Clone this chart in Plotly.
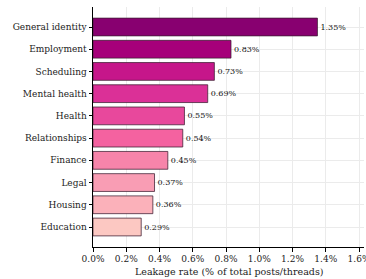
import plotly.graph_objects as go

categories = ["General identity", "Employment", "Scheduling", "Mental health", "Health",
              "Relationships", "Finance", "Legal", "Housing", "Education"]
values = [1.35, 0.83, 0.73, 0.69, 0.55, 0.54, 0.45, 0.37, 0.36, 0.29]
colors = ["#880070", "#a6007a", "#c6168a", "#db3097", "#e8489c", "#f462a0",
          "#f784aa", "#f99db4", "#fbb1ba", "#fcc8c2"]
tick_vals = [0, 0.2, 0.4, 0.6, 0.8, 1.0, 1.2, 1.4, 1.6]
tick_text = ["0.0%", "0.2%", "0.4%", "0.6%", "0.8%", "1.0%", "1.2%", "1.4%", "1.6%"]
x_title = "Leakage rate (% of total posts/threads)"

font = "DejaVu Serif"
fig = go.Figure()
fig.add_trace(go.Bar(
    x=values, y=categories, orientation="h",
    marker=dict(color=colors, line=dict(color="rgba(60,30,50,0.75)", width=1)),
    width=0.8,
    text=[f"{v:.2f}%" for v in values], textposition="outside",
    textfont=dict(family=font, size=8, color="#111"),
    cliponaxis=False,
))
fig.update_layout(
    width=366, height=279,
    margin=dict(l=93, r=2, t=7, b=32, autoexpand=False),
    plot_bgcolor="white", paper_bgcolor="white",
    font=dict(family=font, size=9, color="#222"),
    showlegend=False,
)
fig.add_annotation(
    text=x_title, xref="paper", yref="paper", x=0.5, y=-0.1,
    xanchor="center", yanchor="middle", showarrow=False,
    font=dict(family=font, size=9.5, color="#222"),
)
fig.update_xaxes(
    range=[0, 1.63], tickvals=tick_vals, ticktext=tick_text,
    showgrid=True, gridcolor="#ebebeb", gridwidth=0.8,
    showline=True, linecolor="black", linewidth=1,
    ticks="outside", ticklen=3.5, tickcolor="black",
    tickfont=dict(size=9, family=font),
    ticklabeloverflow="allow",
    automargin=False, zeroline=False,
)
fig.update_yaxes(
    categoryorder="array", categoryarray=categories[::-1],
    range=[-0.9, 9.9],
    showgrid=True, gridcolor="#ebebeb", gridwidth=0.8,
    showline=True, linecolor="black", linewidth=1,
    ticks="outside", ticklen=3.5, tickcolor="black",
    tickfont=dict(size=9, family=font),
    automargin=False,
)
fig.write_html("out.html", config={"displayModeBar": False},
               post_script="document.body.style.margin='0';document.body.style.overflow='hidden';")
